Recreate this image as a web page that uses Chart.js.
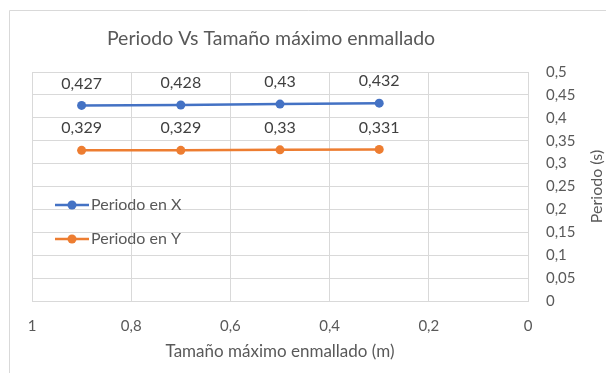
<!DOCTYPE html>
<html>
<head>
<meta charset="utf-8">
<script src="https://cdn.jsdelivr.net/npm/chart.js@4"></script>
<style>
  html, body { margin: 0; padding: 0; background: #fff; }
  #wrap { width: 606px; height: 373px; position: relative; }
</style>
</head>
<body>
<div id="wrap"><canvas id="periodChart" width="606" height="373"></canvas></div>
<script>
// mesh sizes (m) and periods (s)
const meshSizes = [0.9, 0.7, 0.5, 0.3];
const periodX = [0.427, 0.428, 0.43, 0.432];
const periodY = [0.329, 0.329, 0.33, 0.331];
const seriesNames = ['Periodo en X', 'Periodo en Y'];
const chartTitle = 'Periodo Vs Tamaño máximo enmallado';
const xTitle = 'Tamaño máximo enmallado (m)';
const yTitle = 'Periodo (s)';

const blue = '#4472C4';
const orange = '#ED7D31';
const textGray = '#595959';
const gridGray = '#D9D9D9';
const fontName = 'Lato, "Open Sans", sans-serif';

function toComma(v) {
    return String(Math.round(v * 1000) / 1000).replace('.', ',');
}

// draws title, rotated y title, data labels, legend and outer frame
const overlay = {
    id: 'overlay',
    afterDatasetsDraw(chart) {
        const ctx = chart.ctx;
        ctx.save();

        // outer frame (left/top edges visible)
        ctx.strokeStyle = gridGray;
        ctx.lineWidth = 1;
        ctx.beginPath();
        ctx.moveTo(9.5, 380);
        ctx.lineTo(9.5, 10.5);
        ctx.lineTo(610, 10.5);
        ctx.stroke();

        // title
        ctx.fillStyle = textGray;
        ctx.font = '19.5px ' + fontName;
        ctx.textAlign = 'center';
        ctx.textBaseline = 'middle';
        ctx.fillText(chartTitle, 271, 39);

        // y axis title, reading bottom to top
        ctx.save();
        ctx.translate(597, chart.chartArea.top + chart.chartArea.height / 2);
        ctx.rotate(-Math.PI / 2);
        ctx.font = '16px ' + fontName;
        ctx.fillText(yTitle, 0, 0);
        ctx.restore();

        // data labels
        ctx.font = '16px ' + fontName;
        ctx.fillStyle = '#404040';
        chart.data.datasets.forEach((ds, i) => {
            chart.getDatasetMeta(i).data.forEach((pt, j) => {
                ctx.fillText(toComma(ds.data[j].y), pt.x, pt.y - 22);
            });
        });

        // legend inside plot
        ctx.textAlign = 'left';
        ctx.font = '16px ' + fontName;
        chart.data.datasets.forEach((ds, i) => {
            const y = 205 + i * 34;
            ctx.strokeStyle = ds.borderColor;
            ctx.lineWidth = 2.5;
            ctx.beginPath();
            ctx.moveTo(55, y);
            ctx.lineTo(89, y);
            ctx.stroke();
            ctx.fillStyle = ds.borderColor;
            ctx.beginPath();
            ctx.arc(72, y, 4.5, 0, Math.PI * 2);
            ctx.fill();
            ctx.fillStyle = textGray;
            ctx.fillText(ds.label, 91, y);
        });

        ctx.restore();
    }
};

document.addEventListener('DOMContentLoaded', function () {
    const ctx = document.getElementById('periodChart').getContext('2d');

    const makeSet = (label, values, color) => ({
        label: label,
        data: meshSizes.map((x, i) => ({ x: x, y: values[i] })),
        borderColor: color,
        backgroundColor: color,
        borderWidth: 2.5,
        pointRadius: 4.5,
        pointBackgroundColor: color,
        pointBorderWidth: 0,
        showLine: true,
        fill: false
    });

    new Chart(ctx, {
        type: 'scatter',
        data: {
            datasets: [
                makeSet(seriesNames[0], periodX, blue),
                makeSet(seriesNames[1], periodY, orange)
            ]
        },
        options: {
            responsive: false,
            animation: false,
            layout: { padding: { left: 32, top: 72, right: 0, bottom: 0 } },
            scales: {
                x: {
                    type: 'linear',
                    reverse: true,
                    min: 0,
                    max: 1,
                    ticks: {
                        stepSize: 0.2,
                        padding: 16,
                        color: textGray,
                        font: { family: fontName, size: 15 },
                        callback: v => toComma(v)
                    },
                    grid: { color: gridGray, drawTicks: false },
                    border: { color: gridGray },
                    title: {
                        display: true,
                        text: xTitle,
                        color: textGray,
                        font: { family: fontName, size: 17 },
                        padding: { top: 0, bottom: 11 }
                    },
                    afterFit: s => { s.height = 72; }
                },
                y: {
                    position: 'right',
                    min: 0,
                    max: 0.5,
                    ticks: {
                        stepSize: 0.05,
                        padding: 18,
                        color: textGray,
                        font: { family: fontName, size: 15 },
                        callback: v => toComma(v)
                    },
                    grid: { color: gridGray, drawTicks: false },
                    border: { color: gridGray },
                    afterFit: s => { s.width = 78; }
                }
            },
            plugins: {
                legend: { display: false },
                tooltip: { enabled: false }
            }
        },
        plugins: [overlay]
    });
});
</script>
</body>
</html>
